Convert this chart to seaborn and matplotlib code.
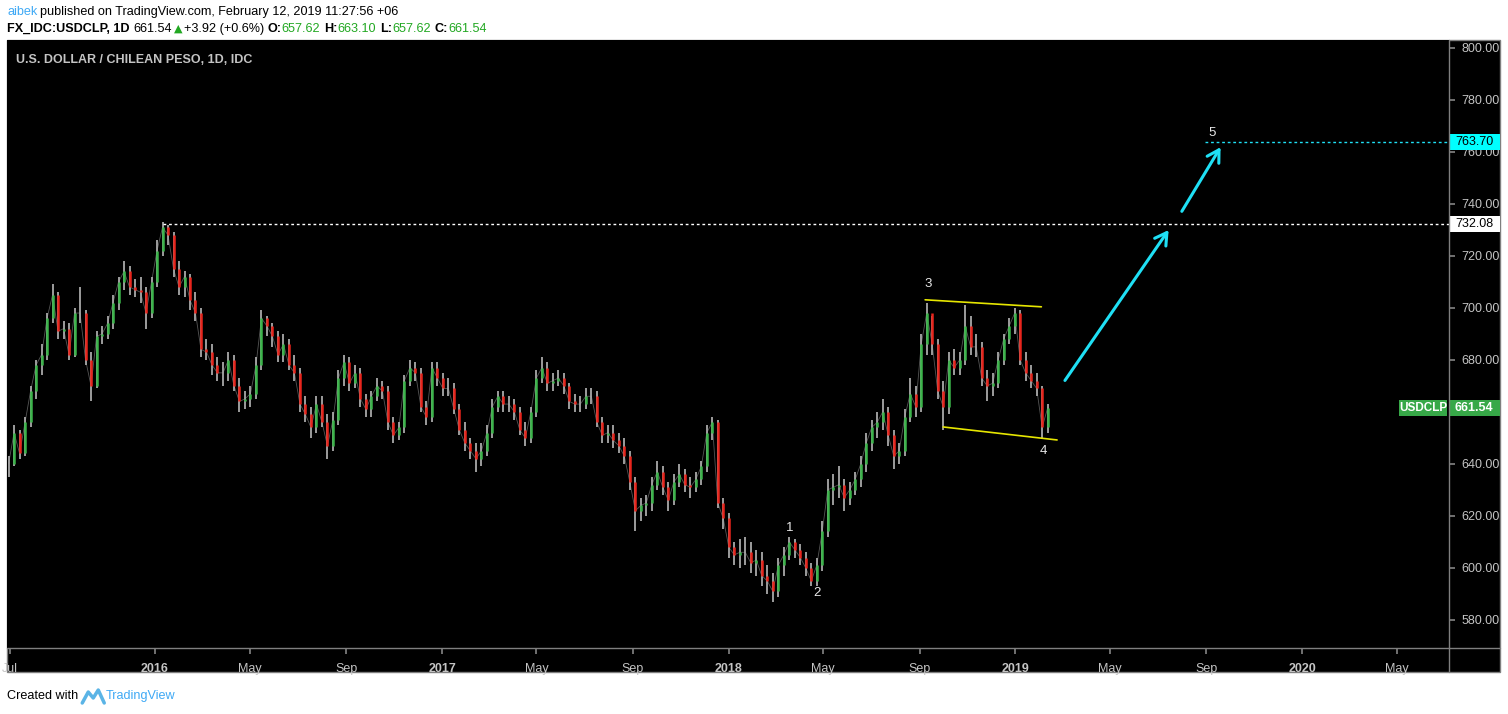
import pandas as pd
import numpy as np
import seaborn as sns
import matplotlib.pyplot as plt
import matplotlib.transforms as mtransforms
from matplotlib.patches import Rectangle, FancyArrowPatch
from matplotlib.lines import Line2D

# weekly USD/CLP bars (Jun 2015 - Feb 2019)
week_start = "2015-06-29"
closes = [
    640, 652, 644, 656, 668, 678, 682, 696, 705, 691,
    692, 682, 698, 698, 680, 670, 689, 690, 694, 702,
    710, 714, 708, 707, 706, 698, 710, 722, 731, 728,
    715, 708, 712, 703, 698, 684, 683, 678, 675, 675,
    680, 670, 664, 665, 667, 678, 696, 693, 689, 682,
    686, 678, 675, 663, 659, 654, 663, 656, 647, 657,
    673, 679, 671, 675, 665, 661, 666, 670, 668, 656,
    651, 654, 672, 677, 675, 662, 658, 677, 673, 669,
    669, 661, 653, 648, 645, 642, 645, 652, 662, 666,
    663, 663, 660, 653, 650, 660, 673, 677, 671, 672,
    673, 670, 664, 663, 663, 666, 666, 656, 651, 652,
    649, 647, 643, 633, 622, 624, 625, 632, 637, 631,
    626, 633, 636, 632, 631, 634, 639, 652, 656, 625,
    619, 608, 605, 606, 606, 602, 603, 597, 595, 591,
    601, 605, 610, 607, 604, 600, 595, 601, 614, 630,
    631, 632, 627, 630, 634, 640, 648, 654, 656, 660,
    651, 643, 645, 658, 667, 662, 686, 698, 686, 668,
    662, 680, 677, 680, 693, 685, 685, 673, 670, 671,
    680, 688, 693, 698, 680, 675, 672, 669, 654, 661.54,
]
highs = [
    643, 655, 653, 658, 670, 680, 686, 698, 709, 706,
    695, 694, 700, 708, 699, 683, 691, 693, 697, 705,
    712, 718, 716, 711, 712, 708, 712, 726, 733, 732,
    729, 718, 714, 713, 706, 700, 688, 686, 681, 679,
    683, 682, 673, 668, 670, 681, 699, 697, 694, 691,
    690, 688, 682, 677, 666, 662, 666, 666, 659, 660,
    676, 682, 681, 678, 677, 667, 668, 673, 672, 670,
    658, 656, 674, 680, 679, 677, 664, 679, 679, 675,
    673, 671, 663, 656, 650, 648, 648, 655, 665, 668,
    668, 666, 665, 662, 656, 662, 676, 681, 679, 675,
    676, 675, 671, 667, 666, 669, 669, 668, 658, 655,
    655, 652, 650, 645, 635, 627, 628, 635, 641, 639,
    633, 636, 640, 638, 635, 637, 641, 655, 658, 657,
    627, 621, 610, 611, 612, 610, 607, 606, 601, 598,
    604, 608, 612, 611, 609, 606, 602, 604, 618, 634,
    636, 639, 634, 633, 637, 643, 652, 657, 660, 665,
    662, 653, 648, 661, 673, 670, 690, 702, 697, 688,
    672, 683, 684, 683, 701, 697, 690, 687, 676, 675,
    683, 690, 696, 700, 699, 683, 678, 675, 670, 663.10,
]
lows = [
    635, 639, 642, 643, 654, 665, 674, 680, 694, 688,
    688, 680, 681, 694, 678, 664, 669, 686, 688, 692,
    699, 707, 705, 704, 702, 692, 696, 708, 720, 724,
    712, 705, 704, 699, 695, 681, 680, 674, 672, 670,
    672, 668, 660, 661, 662, 665, 676, 689, 685, 679,
    679, 676, 672, 660, 656, 650, 652, 654, 642, 645,
    655, 670, 668, 669, 662, 658, 658, 664, 665, 653,
    648, 649, 652, 670, 672, 660, 655, 656, 670, 666,
    666, 659, 651, 645, 642, 637, 639, 643, 650, 660,
    660, 660, 657, 651, 647, 648, 658, 671, 668, 668,
    670, 667, 661, 660, 660, 661, 663, 654, 648, 648,
    646, 644, 640, 630, 614, 618, 620, 622, 630, 628,
    622, 624, 631, 629, 627, 629, 632, 637, 649, 623,
    615, 604, 601, 600, 601, 598, 597, 593, 590, 587,
    589, 597, 603, 604, 601, 597, 593, 593, 599, 612,
    624, 627, 622, 624, 628, 631, 637, 645, 650, 653,
    647, 638, 640, 643, 656, 658, 660, 682, 682, 665,
    653, 659, 674, 674, 678, 682, 681, 670, 664, 666,
    669, 678, 686, 690, 678, 672, 669, 666, 650, 652,
]

# analyst drawings
top_line_dates = ["2018-09-08", "2019-02-03"]
top_line_vals = [703.1, 700.4]
bot_line_dates = ["2018-10-01", "2019-02-23"]
bot_line_vals = [654.2, 649.2]
arrow1 = (["2019-03-03", "2019-07-17"], [671.2, 730.8])
arrow2 = (["2019-07-30", "2019-09-21"], [736.2, 762.7])
wave_labels = ["1", "2", "3", "4", "5"]
wave_dates = ["2018-03-20", "2018-04-23", "2018-09-12", "2019-02-06", "2019-09-08"]
wave_vals = [615.4, 590.4, 709.2, 645.0, 767.3]
prev_high = 732.08
prev_high_from = "2016-01-11"
target = 763.70
target_from = "2019-08-30"
last_price = 661.54

xtick_dates = ["2015-07-01", "2016-01-01", "2016-05-01", "2016-09-01", "2017-01-01",
               "2017-05-01", "2017-09-01", "2018-01-01", "2018-05-01", "2018-09-01",
               "2019-01-01", "2019-05-01", "2019-09-01", "2020-01-01", "2020-05-01"]
xtick_labels = ["Jul", "2016", "May", "Sep", "2017", "May", "Sep", "2018", "May", "Sep",
                "2019", "May", "Sep", "2020", "May"]
ytick_vals = [580, 600, 620, 640, 660, 680, 700, 720, 740, 760, 780, 800]

df = pd.DataFrame({"date": pd.date_range(week_start, periods=len(closes), freq="7D"),
                   "close": closes, "high": highs, "low": lows})
df["open"] = df["close"].shift(1).fillna(df["close"])
df["up"] = df["close"] >= df["open"]

sns.set_theme(style="dark")
plt.rcParams["font.family"] = ["Liberation Sans", "DejaVu Sans"]

W, H = 1508, 714
fig = plt.figure(figsize=(W / 100, H / 100), dpi=100, facecolor="white")

GREEN = "#3bb54a"
RED = "#e8251c"
WICK = "#a9a9a9"
GRID = "#7f7f7f"
LBL = "#c4c4c4"
CYAN = "#1fe0f5"

# black panel behind the chart
fig.patches.append(Rectangle((7 / W, 1 - 672 / H), (1500 - 7) / W, (672 - 40) / H,
                             transform=fig.transFigure, facecolor="black",
                             edgecolor=GRID, linewidth=1, zorder=-5))
fig.lines.append(Line2D([7 / W, 1500 / W], [1 - 648 / H] * 2, transform=fig.transFigure,
                        color=GRID, linewidth=1, zorder=5))
fig.lines.append(Line2D([1449 / W] * 2, [1 - 40 / H, 1 - 672 / H], transform=fig.transFigure,
                        color=GRID, linewidth=1, zorder=5))

ax = fig.add_axes([7 / W, 1 - 648 / H, (1449 - 7) / W, (648 - 40) / H])
ax.set_facecolor("black")
for s in ax.spines.values():
    s.set_visible(False)

ax.set_xlim(pd.Timestamp("2015-06-27"), pd.Timestamp("2020-07-06"))
ax.set_ylim(569.2, 803)

# bars: grey high-low wick, coloured open-close body
up = df[df["up"]]
dn = df[~df["up"]]
sns.lineplot(data=df, x="date", y="close", ax=ax, color=WICK, linewidth=0.6,
             alpha=0.5, zorder=1)
ax.vlines(df["date"], df["low"], df["high"], color=WICK, linewidth=1.3, zorder=2)
ax.vlines(up["date"], up["open"], up["close"], color=GREEN, linewidth=1.8, zorder=3)
ax.vlines(dn["date"], dn["open"], dn["close"], color=RED, linewidth=1.8, zorder=3)

# drawings
ax.plot(pd.to_datetime(top_line_dates), top_line_vals, color="#e6e600", linewidth=1.2)
ax.plot(pd.to_datetime(bot_line_dates), bot_line_vals, color="#e6e600", linewidth=1.2)
for xs, ys in (arrow1, arrow2):
    xd = pd.to_datetime(xs)
    ax.add_patch(FancyArrowPatch((xd[0], ys[0]), (xd[1], ys[1]),
                                 arrowstyle="->,head_length=0.6,head_width=0.35",
                                 mutation_scale=14, color=CYAN, linewidth=2.2))
for t, d, v in zip(wave_labels, wave_dates, wave_vals):
    ax.text(pd.Timestamp(d), v, t, color="#e8e8e8", fontsize=9.5, ha="center", va="center")

ax.plot([pd.Timestamp(prev_high_from), pd.Timestamp("2020-07-06")], [prev_high] * 2,
        color="white", linewidth=1, linestyle=(0, (2, 2)))
ax.plot([pd.Timestamp(target_from), pd.Timestamp("2020-07-06")], [target] * 2,
        color=CYAN, linewidth=1, linestyle=(0, (2, 2)))

ax.text(9 / 1442, 1 - 20 / 608, "U.S. DOLLAR / CHILEAN PESO, 1D, IDC", transform=ax.transAxes,
        color=LBL, fontsize=9, fontweight="bold", va="center")

# axes ticks
ax.set_xticks(pd.to_datetime(xtick_dates))
ax.set_xticklabels(xtick_labels)
for lab in ax.get_xticklabels():
    if lab.get_text().isdigit():
        lab.set_fontweight("bold")
ax.tick_params(axis="x", colors=GRID, labelcolor=LBL, labelsize=9, length=4,
               direction="out", pad=7, bottom=True)
ax.yaxis.tick_right()
ax.set_yticks(ytick_vals)
# 660 is hidden behind the last-price box in the original
ax.set_yticklabels(["" if v == 660 else f"{v:.2f}" for v in ytick_vals])
ax.tick_params(axis="y", colors=GRID, labelcolor=LBL, labelsize=9, length=4,
               direction="out", pad=5, right=True)
ax.set_xlabel("")
ax.set_ylabel("")
ax.grid(False)

# price boxes on the right axis
bt = mtransforms.blended_transform_factory(fig.transFigure, ax.transData)
box_h = 16 / 2.6


def price_box(val, face, tcolor, text, bold=False):
    ax.add_patch(Rectangle((1449 / W, val - box_h / 2), 51 / W, box_h, transform=bt,
                           facecolor=face, edgecolor="none", clip_on=False, zorder=5))
    ax.text(1474 / W, val, text, transform=bt, color=tcolor, fontsize=9, ha="center",
            va="center", fontweight="bold" if bold else "normal", zorder=6, clip_on=False)


price_box(target, "#00ffff", "black", f"{target:.2f}")
price_box(prev_high, "white", "black", f"{prev_high:.2f}")
price_box(last_price, "#37a848", "white", f"{last_price:.2f}", bold=True)
ax.add_patch(Rectangle((1399 / W, last_price - box_h / 2), 48 / W, box_h, transform=bt,
                       facecolor="#37a848", edgecolor="none", clip_on=False, zorder=5))
ax.text(1423 / W, last_price, "USDCLP", transform=bt, color="white", fontsize=8.5,
        ha="center", va="center", fontweight="bold", zorder=6)

# header and footer text, placed piece by piece
renderer = fig.canvas.get_renderer()
FS = 9.1


def put(x, y, s, **kw):
    t = fig.text(x / W, 1 - y / H, s, va="center", ha="left", **kw)
    return t.get_window_extent(renderer).x1


x = put(7, 12, "aibek", color="#3fa9f5", fontsize=FS)
put(x + 3, 12, "published on TradingView.com, February 12, 2019 11:27:56 +06",
    color="black", fontsize=FS)

y2 = 29
x = put(7, y2, "FX_IDC:USDCLP, 1D", color="black", fontsize=FS, fontweight="bold")
x = put(x + 4, y2, "661.54", color="black", fontsize=FS)
x = put(x + 2, y2, "\u25b2", color="#22a822", fontsize=8, family="DejaVu Sans")
x = put(x + 1, y2, "+3.92 (+0.6%)", color="black", fontsize=FS)
for key, val in (("O:", "657.62"), ("H:", "663.10"), ("L:", "657.62"), ("C:", "661.54")):
    x = put(x + 4, y2, key, color="black", fontsize=FS, fontweight="bold")
    x = put(x, y2, val, color="#22a822", fontsize=FS)

x = put(7, 696, "Created with", color="black", fontsize=FS)
fig.lines.append(Line2D(np.array([x + 4, x + 10, x + 15, x + 20, x + 26]) / W,
                        1 - np.array([703, 692, 698, 690, 703]) / H,
                        transform=fig.transFigure, color="#5ab4e6", linewidth=2.5))
put(x + 27, 696, "TradingView", color="#3fa9f5", fontsize=FS)

fig.savefig("out.png", dpi=100, facecolor="white")
